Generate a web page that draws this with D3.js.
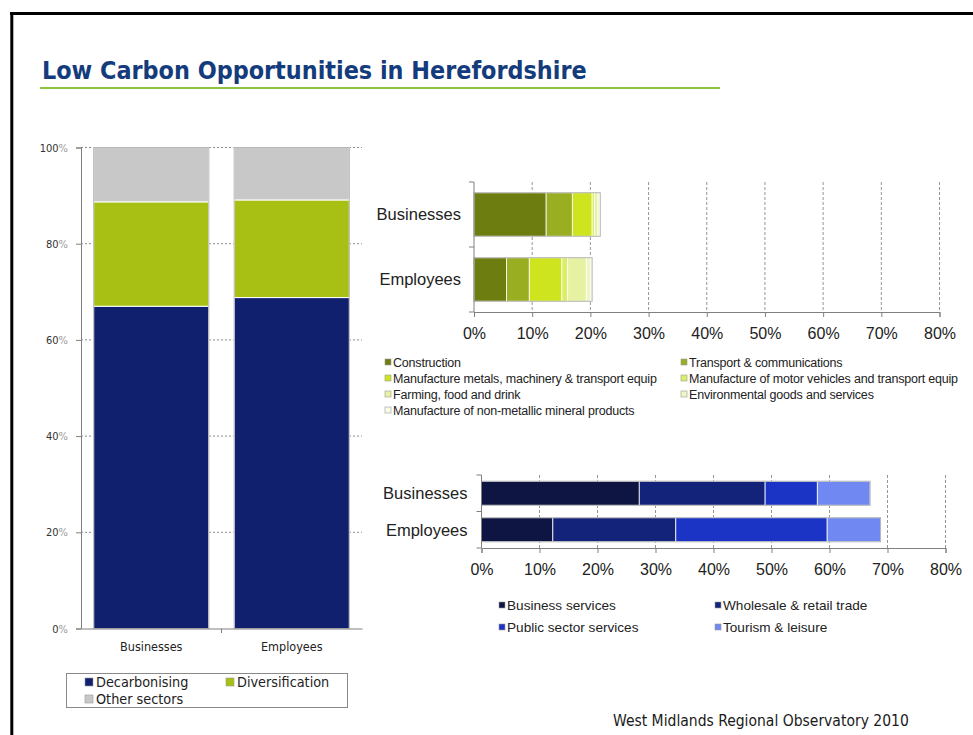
<!DOCTYPE html>
<html>
<head>
<meta charset="utf-8">
<script src="https://cdn.jsdelivr.net/npm/d3@7/dist/d3.min.js"></script>
<style>
  html, body { margin: 0; padding: 0; background: #fff; }
  svg { display: block; }
</style>
</head>
<body>
<svg id="chart" width="973" height="735"></svg>
<script>
// ---------------- DATA ----------------
const categories = ["Businesses", "Employees"];

// Left chart: overall split (%)
const overallSeries = ["Decarbonising", "Diversification", "Other sectors"];
const decarbonising = [67.0, 68.8];
const diversification = [21.7, 20.3];
const otherSectors = [11.3, 10.9];
const overallTicks = [0, 20, 40, 60, 80, 100];

// Top-right chart: diversification sectors (%)
const divSectors = [
  "Construction",
  "Transport & communications",
  "Manufacture metals, machinery & transport equip",
  "Manufacture of motor vehicles and transport equip",
  "Farming, food and drink",
  "Environmental goods and services",
  "Manufacture of non-metallic mineral products"
];
const divBusinesses = [12.4, 4.5, 3.4, 0.4, 0.6, 0.3, 0.1];
const divEmployees  = [5.6, 3.9, 5.6, 1.0, 3.2, 0.8, 0.2];

// Bottom-right chart: decarbonising sectors (%)
const decSectors = [
  "Business services",
  "Wholesale & retail trade",
  "Public sector services",
  "Tourism & leisure"
];
const decBusinesses = [27.2, 21.7, 9.0, 9.1];
const decEmployees  = [12.3, 21.2, 26.1, 9.2];

const sectorTicks = [0, 10, 20, 30, 40, 50, 60, 70, 80];

// ---------------- STYLE ----------------
const overallColors = ["#101f6e", "#a8c014", "#c8c8c8"];
const divColors = ["#6e7d10", "#9aae22", "#cde41e", "#dcee66", "#e6f1a2", "#eef6c4", "#f8fbe8"];
const decColors = ["#0e1542", "#13237a", "#1b34c6", "#7089f2"];

const svg = d3.select("#chart");
const condFont = "'DejaVu Sans Condensed', 'DejaVu Sans', sans-serif";

// Frame
svg.append("line").attr("x1", 10).attr("x2", 973).attr("y1", 13.5).attr("y2", 13.5)
  .attr("stroke", "#000").attr("stroke-width", 3);
svg.append("line").attr("x1", 11.8).attr("x2", 11.8).attr("y1", 12).attr("y2", 735)
  .attr("stroke", "#000").attr("stroke-width", 3);

// Title
const title = svg.append("text")
  .attr("x", 42).attr("y", 79)
  .attr("font-family", condFont)
  .attr("font-weight", "bold")
  .attr("font-size", 24)
  .attr("fill", "#143c7c")
  .text("Low Carbon Opportunities in Herefordshire");
{
  const w = title.node().getComputedTextLength();
  title.attr("font-size", 24 * 545 / w);
}
svg.append("line").attr("x1", 40).attr("x2", 720).attr("y1", 88).attr("y2", 88)
  .attr("stroke", "#8cc63f").attr("stroke-width", 2);

// Footer
svg.append("text")
  .attr("x", 613).attr("y", 726)
  .attr("font-family", condFont)
  .attr("font-size", 15.5)
  .attr("fill", "#1a1a1a")
  .text("West Midlands Regional Observatory 2010");

// ---------------- LEFT CHART ----------------
{
  const g = svg.append("g");
  const x = d3.scaleBand().domain(categories).range([81, 362]).paddingInner(0.18).paddingOuter(0.09);
  const y = d3.scaleLinear().domain([0, 100]).range([628.5, 147.5]);

  // gridlines
  g.selectAll("line.grid").data(overallTicks.filter(t => t > 0)).join("line")
    .attr("x1", 81).attr("x2", 362)
    .attr("y1", d => y(d)).attr("y2", d => y(d))
    .attr("stroke", "#8a8a8a").attr("stroke-width", 1).attr("stroke-dasharray", "2,2");

  const rows = categories.map((c, i) => ({
    cat: c,
    "Decarbonising": decarbonising[i],
    "Diversification": diversification[i],
    "Other sectors": otherSectors[i]
  }));
  const stack = d3.stack().keys(overallSeries)(rows);
  stack.forEach((s, si) => {
    g.selectAll(null).data(s).join("rect")
      .attr("x", d => x(d.data.cat))
      .attr("width", x.bandwidth())
      .attr("y", d => y(d[1]))
      .attr("height", d => y(d[0]) - y(d[1]))
      .attr("fill", overallColors[si])
      .attr("stroke", "#ffffff").attr("stroke-width", 1);
  });
  // outline
  g.selectAll(null).data(rows).join("rect")
    .attr("x", d => x(d.cat)).attr("width", x.bandwidth())
    .attr("y", y(100)).attr("height", y(0) - y(100))
    .attr("fill", "none").attr("stroke", "#b8b8b8").attr("stroke-width", 1);

  // y axis
  const yAxis = d3.axisLeft(y).tickValues(overallTicks).tickSize(5).tickPadding(8).tickFormat(d => d);
  const ya = g.append("g").attr("transform", "translate(81,0)").call(yAxis);
  ya.select(".domain").attr("stroke", "#808080");
  ya.selectAll(".tick line").attr("stroke", "#808080");
  ya.selectAll(".tick text").each(function(d) {
    const t = d3.select(this);
    t.text(null).attr("font-family", condFont).attr("font-size", 11).attr("fill", "#333");
    t.append("tspan").text(d);
    t.append("tspan").attr("fill", "#9a9a9a").text("%");
  });

  // x axis
  const xAxis = d3.axisBottom(x).tickSize(0).tickPadding(14);
  const xa = g.append("g").attr("transform", "translate(0,628.5)").call(xAxis);
  xa.select(".domain").attr("stroke", "#808080");
  xa.selectAll(".tick text").attr("font-family", condFont).attr("font-size", 12.5).attr("fill", "#222");
  // separator tick between categories
  const sepX = (x(categories[0]) + x.bandwidth() + x(categories[1])) / 2;
  g.append("line").attr("x1", sepX).attr("x2", sepX)
    .attr("y1", 628.5).attr("y2", 633).attr("stroke", "#808080");

  // legend
  const lg = g.append("g");
  lg.append("rect").attr("x", 66.5).attr("y", 673.5).attr("width", 281).attr("height", 34)
    .attr("fill", "#fff").attr("stroke", "#8a8a8a");
  const legPos = [[85, 682], [226, 682], [85, 699]];
  overallSeries.forEach((s, i) => {
    lg.append("rect").attr("x", legPos[i][0]).attr("y", legPos[i][1] - 4)
      .attr("width", 8).attr("height", 8).attr("fill", overallColors[i])
      .attr("stroke", "#999").attr("stroke-width", 0.6);
    lg.append("text").attr("x", legPos[i][0] + 11).attr("y", legPos[i][1] + 5)
      .attr("font-family", condFont).attr("font-size", 14.3).attr("fill", "#222").text(s);
  });
}

// ---------------- RIGHT CHARTS helper ----------------
function sectorChart(opts) {
  const g = svg.append("g");
  const x = d3.scaleLinear().domain([0, 80]).range(opts.xRange);
  const y = d3.scaleBand().domain(categories).range(opts.yRange)
    .paddingInner(opts.pad).paddingOuter(opts.pad / 2);
  const font = "'Liberation Sans', Arial, sans-serif";

  // gridlines
  g.selectAll(null).data(sectorTicks.filter(t => t > 0)).join("line")
    .attr("x1", d => x(d)).attr("x2", d => x(d))
    .attr("y1", opts.yRange[0]).attr("y2", opts.yRange[1])
    .attr("stroke", "#7a7a7a").attr("stroke-width", 0.8).attr("stroke-dasharray", "3,2");

  const rows = categories.map((c, i) => {
    const r = { cat: c };
    opts.keys.forEach((k, j) => r[k] = opts.values[i][j]);
    return r;
  });
  const stack = d3.stack().keys(opts.keys)(rows);
  stack.forEach((s, si) => {
    g.selectAll(null).data(s).join("rect")
      .attr("x", d => x(d[0]))
      .attr("width", d => x(d[1]) - x(d[0]))
      .attr("y", d => y(d.data.cat))
      .attr("height", y.bandwidth())
      .attr("fill", opts.colors[si])
      .attr("stroke", "#ffffff").attr("stroke-width", 0.8);
  });
  // outline
  g.selectAll(null).data(rows).join("rect")
    .attr("x", x(0))
    .attr("width", d => x(d3.sum(opts.keys, k => d[k])) - x(0))
    .attr("y", d => y(d.cat)).attr("height", y.bandwidth())
    .attr("fill", "none").attr("stroke", "#b4b4b4").attr("stroke-width", 1);

  // y axis (ticks at band boundaries)
  g.append("line").attr("x1", x(0)).attr("x2", x(0))
    .attr("y1", opts.yRange[0]).attr("y2", opts.yRange[1]).attr("stroke", "#808080");
  const bounds = [opts.yRange[0], (opts.yRange[0] + opts.yRange[1]) / 2, opts.yRange[1]];
  g.selectAll(null).data(bounds).join("line")
    .attr("x1", x(0) - 5).attr("x2", x(0)).attr("y1", d => d).attr("y2", d => d)
    .attr("stroke", "#808080");
  g.selectAll(null).data(categories).join("text")
    .attr("x", x(0) - opts.labGap).attr("y", d => y(d) + y.bandwidth() / 2)
    .attr("dy", "0.35em").attr("text-anchor", "end")
    .attr("font-family", font).attr("font-size", 16.5).attr("fill", "#222")
    .text(d => d);

  // x axis
  const xAxis = d3.axisBottom(x).tickValues(sectorTicks).tickSize(5).tickPadding(11)
    .tickFormat(d => d + "%");
  const xa = g.append("g").attr("transform", `translate(0,${opts.yRange[1]})`).call(xAxis);
  xa.select(".domain").attr("stroke", "#808080");
  xa.selectAll(".tick line").attr("stroke", "#808080");
  xa.selectAll(".tick text").attr("font-family", font).attr("font-size", 16).attr("fill", "#222");

  // legend
  const lg = g.append("g");
  opts.keys.forEach((k, i) => {
    const col = i % 2, row = Math.floor(i / 2);
    const lx = opts.legX[col], ly = opts.legY + row * opts.legDy;
    lg.append("rect").attr("x", lx).attr("y", ly - opts.mk / 2)
      .attr("width", opts.mk).attr("height", opts.mk)
      .attr("fill", opts.colors[i]).attr("stroke", "#9a9a9a").attr("stroke-width", 0.6);
    lg.append("text").attr("x", lx + opts.mk + 2).attr("y", ly).attr("dy", "0.36em")
      .attr("font-family", font).attr("font-size", opts.legFont)
      .attr("letter-spacing", opts.ls).attr("fill", "#222").text(k);
  });
}

sectorChart({
  keys: divSectors,
  values: [divBusinesses, divEmployees],
  colors: divColors,
  xRange: [474, 939.5],
  yRange: [182, 312],
  pad: 0.33,
  labGap: 13,
  legX: [385, 681],
  legY: 362, legDy: 16, mk: 6,
  legFont: 12.5, ls: -0.2
});

sectorChart({
  keys: decSectors,
  values: [decBusinesses, decEmployees],
  colors: decColors,
  xRange: [481.5, 945.5],
  yRange: [475, 548],
  pad: 0.34,
  labGap: 14,
  legX: [499, 715],
  legY: 605, legDy: 22, mk: 6,
  legFont: 13.6, ls: 0
});
</script>
</body>
</html>
